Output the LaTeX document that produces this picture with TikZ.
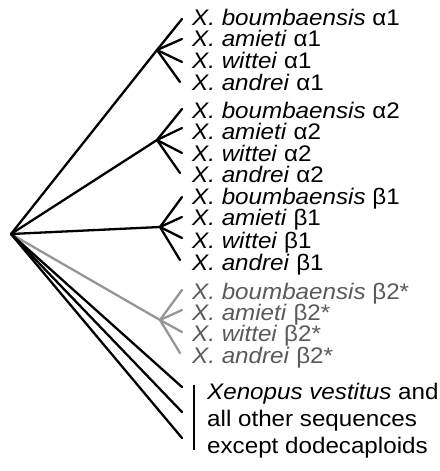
\documentclass[tikz,border=0pt]{standalone}
\usepackage{fontspec}
\setmainfont{Liberation Sans}
\definecolor{lgray}{RGB}{150,150,150}
\definecolor{tgray}{RGB}{90,90,90}
\newcommand{\widetxt}[1]{\scalebox{1.075}[1]{#1}}
\begin{document}
\begin{tikzpicture}[x=1pt,y=-1pt,
  br/.style={line width=2.3pt,black,line cap=round},
  gbr/.style={line width=2.3pt,lgray,line cap=round},
  lab/.style={anchor=base west,inner sep=0pt,text height=15pt,text depth=3pt,font=\fontsize{22.5}{22.5}\selectfont},
  glab/.style={lab,text=tgray}]
\useasboundingbox (0,0) rectangle (439,471);
% coordinates
\coordinate (root) at (11,234);
\coordinate (j1) at (157,50);
\coordinate (j2) at (157,140);
\coordinate (j3) at (160,227);
\coordinate (j4) at (160,320);
\coordinate (t11) at (182,19);
\coordinate (t12) at (182,39);
\coordinate (t13) at (182,62);
\coordinate (t14) at (180,82);
\coordinate (t21) at (182,109);
\coordinate (t22) at (182,128);
\coordinate (t23) at (182,153);
\coordinate (t24) at (180,173);
\coordinate (t31) at (182,197);
\coordinate (t32) at (182,217);
\coordinate (t33) at (182,238);
\coordinate (t34) at (180,260);
\coordinate (t41) at (182,290);
\coordinate (t42) at (182,310);
\coordinate (t43) at (182,332);
\coordinate (t44) at (180,353);
\coordinate (b1) at (182,387);
\coordinate (b2) at (182,412);
\coordinate (b3) at (182,438);
\coordinate (bar1) at (194,385);
\coordinate (bar2) at (194,450);
% branches
\draw[gbr] (root) -- (j4);
\foreach \k in {1,2,3,4} \draw[gbr] (j4) -- (t4\k);
\draw[br] (root) -- (j1);
\draw[br] (root) -- (j2);
\draw[br] (root) -- (j3);
\foreach \c in {1,2,3} \foreach \k in {1,2,3,4} \draw[br] (j\c) -- (t\c\k);
\draw[br] (root) -- (b1);
\draw[br] (root) -- (b2);
\draw[br] (root) -- (b3);
\draw[line width=2.3pt] (bar1) -- (bar2);
% labels
\node[lab] (l11) at (192,25) {\widetxt{\textit{X. boumbaensis} α1}};
\node[lab] (l12) at (192,46) {\widetxt{\textit{X. amieti} α1}};
\node[lab] (l13) at (192,68) {\widetxt{\textit{X. wittei} α1}};
\node[lab] (l14) at (192,90) {\widetxt{\textit{X. andrei} α1}};
\node[lab] (l21) at (192,118) {\widetxt{\textit{X. boumbaensis} α2}};
\node[lab] (l22) at (192,139) {\widetxt{\textit{X. amieti} α2}};
\node[lab] (l23) at (192,161) {\widetxt{\textit{X. wittei} α2}};
\node[lab] (l24) at (192,182) {\widetxt{\textit{X. andrei} α2}};
\node[lab] (l31) at (192,204) {\widetxt{\textit{X. boumbaensis} β1}};
\node[lab] (l32) at (192,225) {\widetxt{\textit{X. amieti} β1}};
\node[lab] (l33) at (192,248) {\widetxt{\textit{X. wittei} β1}};
\node[lab] (l34) at (192,270) {\widetxt{\textit{X. andrei} β1}};
\node[glab] (l41) at (192,299) {\widetxt{\textit{X. boumbaensis} β2*}};
\node[glab] (l42) at (192,320.5) {\widetxt{\textit{X. amieti} β2*}};
\node[glab] (l43) at (192,341.5) {\widetxt{\textit{X. wittei} β2*}};
\node[glab] (l44) at (192,363) {\widetxt{\textit{X. andrei} β2*}};
\node[lab] (m1) at (207,399) {\widetxt{\textit{Xenopus vestitus} and}};
\node[lab] (m2) at (207,426) {\widetxt{all other sequences}};
\node[lab] (m3) at (207,453) {\widetxt{except dodecaploids}};
\end{tikzpicture}
\end{document}
